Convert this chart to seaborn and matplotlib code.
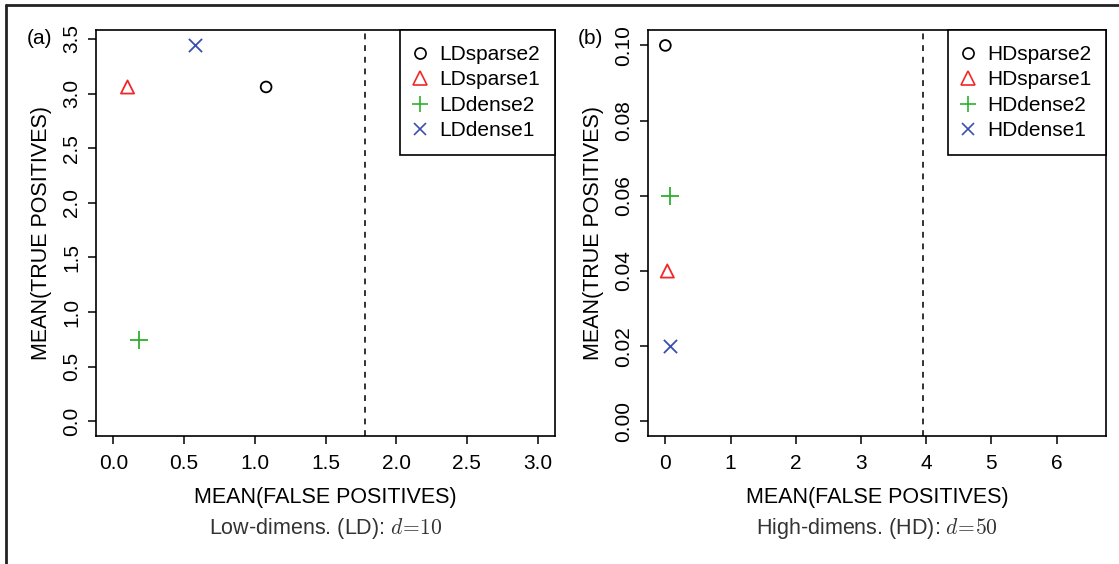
import matplotlib
matplotlib.use("Agg")
import matplotlib.pyplot as plt
import seaborn as sns
import pandas as pd
from matplotlib.lines import Line2D

# ---- data ----
ld_names = ["LDsparse2", "LDsparse1", "LDdense2", "LDdense1"]
ld_fp = [1.08, 0.10, 0.18, 0.58]
ld_tp = [3.06, 3.06, 0.74, 3.44]
ld_threshold = 1.78
ld_xticks = [0.0, 0.5, 1.0, 1.5, 2.0, 2.5, 3.0]
ld_yticks = [0.0, 0.5, 1.0, 1.5, 2.0, 2.5, 3.0, 3.5]

hd_names = ["HDsparse2", "HDsparse1", "HDdense2", "HDdense1"]
hd_fp = [0.0, 0.03, 0.07, 0.07]
hd_tp = [0.10, 0.04, 0.06, 0.02]
hd_threshold = 3.95
hd_xticks = [0, 1, 2, 3, 4, 5, 6]
hd_yticks = [0.00, 0.02, 0.04, 0.06, 0.08, 0.10]

markers = ["o", "^", "+", "x"]
colors = ["black", "#F02828", "#2DB02D", "#3A50B0"]
filled_open = [True, True, False, False]
sizes = [60, 90, 150, 90]

sns.set_theme(style="white")
plt.rcParams["font.family"] = ["Liberation Sans", "DejaVu Sans"]
plt.rcParams["mathtext.fontset"] = "cm"
plt.rcParams["text.color"] = "black"
plt.rcParams["axes.labelcolor"] = "black"
plt.rcParams["xtick.color"] = "black"
plt.rcParams["ytick.color"] = "black"

fig = plt.figure(figsize=(11.19, 5.64), dpi=100)
W, H = 1119, 564


def make_axes(left_px, right_px, top_px, bottom_px):
    return fig.add_axes([left_px / W, 1 - bottom_px / H,
                         (right_px - left_px) / W, (bottom_px - top_px) / H])


def draw_panel(ax, names, fp, tp, thr, xticks, yticks, xlim, ylim, ytickfmt, caption):
    for i, name in enumerate(names):
        df = pd.DataFrame({"fp": [fp[i]], "tp": [tp[i]]})
        if filled_open[i]:
            sns.scatterplot(data=df, x="fp", y="tp", ax=ax, marker=markers[i], s=sizes[i],
                            color=colors[i], facecolors="none", edgecolors=colors[i],
                            linewidth=1.3, legend=False, zorder=3)
        else:
            sns.scatterplot(data=df, x="fp", y="tp", ax=ax, marker=markers[i], s=sizes[i],
                            color=colors[i], linewidth=1.3, legend=False, zorder=3)
    ax.axvline(thr, color="#333333", linestyle=(0, (3, 3)), linewidth=1.4, zorder=2)
    dx = (xlim[1] - xlim[0]) * 0.04
    dy = (ylim[1] - ylim[0]) * 0.04
    ax.set_xlim(xlim[0] - dx, xlim[1] + dx)
    ax.set_ylim(ylim[0] - dy, ylim[1] + dy)
    ax.set_xticks(xticks)
    ax.set_yticks(yticks)
    ax.set_xticklabels([f"{v:.1f}" if isinstance(v, float) else str(v) for v in xticks], fontsize=15)
    ax.set_yticklabels([ytickfmt.format(v) for v in yticks], fontsize=15, rotation=90, va="center")
    ax.tick_params(axis="both", direction="out", length=6, width=1.1, color="black",
                   labelcolor="black", bottom=True, left=True, pad=5)
    ax.tick_params(axis="x", pad=7)
    for sp in ax.spines.values():
        sp.set_color("black")
        sp.set_linewidth(1.2)
    ax.set_xlabel("MEAN(FALSE POSITIVES)", fontsize=15.5, labelpad=10, color="black")
    ax.set_ylabel("MEAN(TRUE POSITIVES)", fontsize=15.5, labelpad=7, color="black")
    ax.text(0.5, -0.228, caption, transform=ax.transAxes, ha="center", va="center",
            fontsize=15.5, color="#333333")
    ax.grid(False)
    handles = [Line2D([], [], linestyle="none", marker=markers[i],
                      markerfacecolor="none" if filled_open[i] else colors[i],
                      markeredgecolor=colors[i], color=colors[i],
                      markersize=[8, 10, 12, 9][i], markeredgewidth=1.2)
               for i in range(4)]
    leg = ax.legend(handles, names, loc="upper right", fontsize=15, frameon=True,
                    fancybox=False, edgecolor="black", framealpha=1,
                    borderaxespad=0, handlelength=0.52, handletextpad=0.68,
                    labelspacing=0.31, borderpad=0.7)
    leg.get_frame().set_linewidth(1.2)
    for t in leg.get_texts():
        t.set_color("black")
    return ax


ax1 = make_axes(96.4, 554.6, 30.4, 436.4)
draw_panel(ax1, ld_names, ld_fp, ld_tp, ld_threshold, ld_xticks, ld_yticks,
           (0, 3.0), (0, 3.44), "{:.1f}", r"Low-dimens. (LD): $d\!=\!10$")
ax2 = make_axes(648.4, 1106.2, 30.4, 436.4)
draw_panel(ax2, hd_names, hd_fp, hd_tp, hd_threshold, hd_xticks, hd_yticks,
           (0, 6.5), (0, 0.10), "{:.2f}", r"High-dimens. (HD): $d\!=\!50$")

fig.text(39 / W, 1 - 38 / H, "(a)", fontsize=15, ha="center", va="center", color="black")
fig.text(590 / W, 1 - 38 / H, "(b)", fontsize=15, ha="center", va="center", color="black")

# frame lines (top and left edges of the figure box)
fig.add_artist(Line2D([5.5 / W, 1.0], [1 - 4.5 / H, 1 - 4.5 / H], color="#222222", linewidth=2,
                      transform=fig.transFigure))
fig.add_artist(Line2D([5.5 / W, 5.5 / W], [0, 1 - 4.5 / H], color="#222222", linewidth=2,
                      transform=fig.transFigure))

fig.savefig("out.png", dpi=100, facecolor="white")
